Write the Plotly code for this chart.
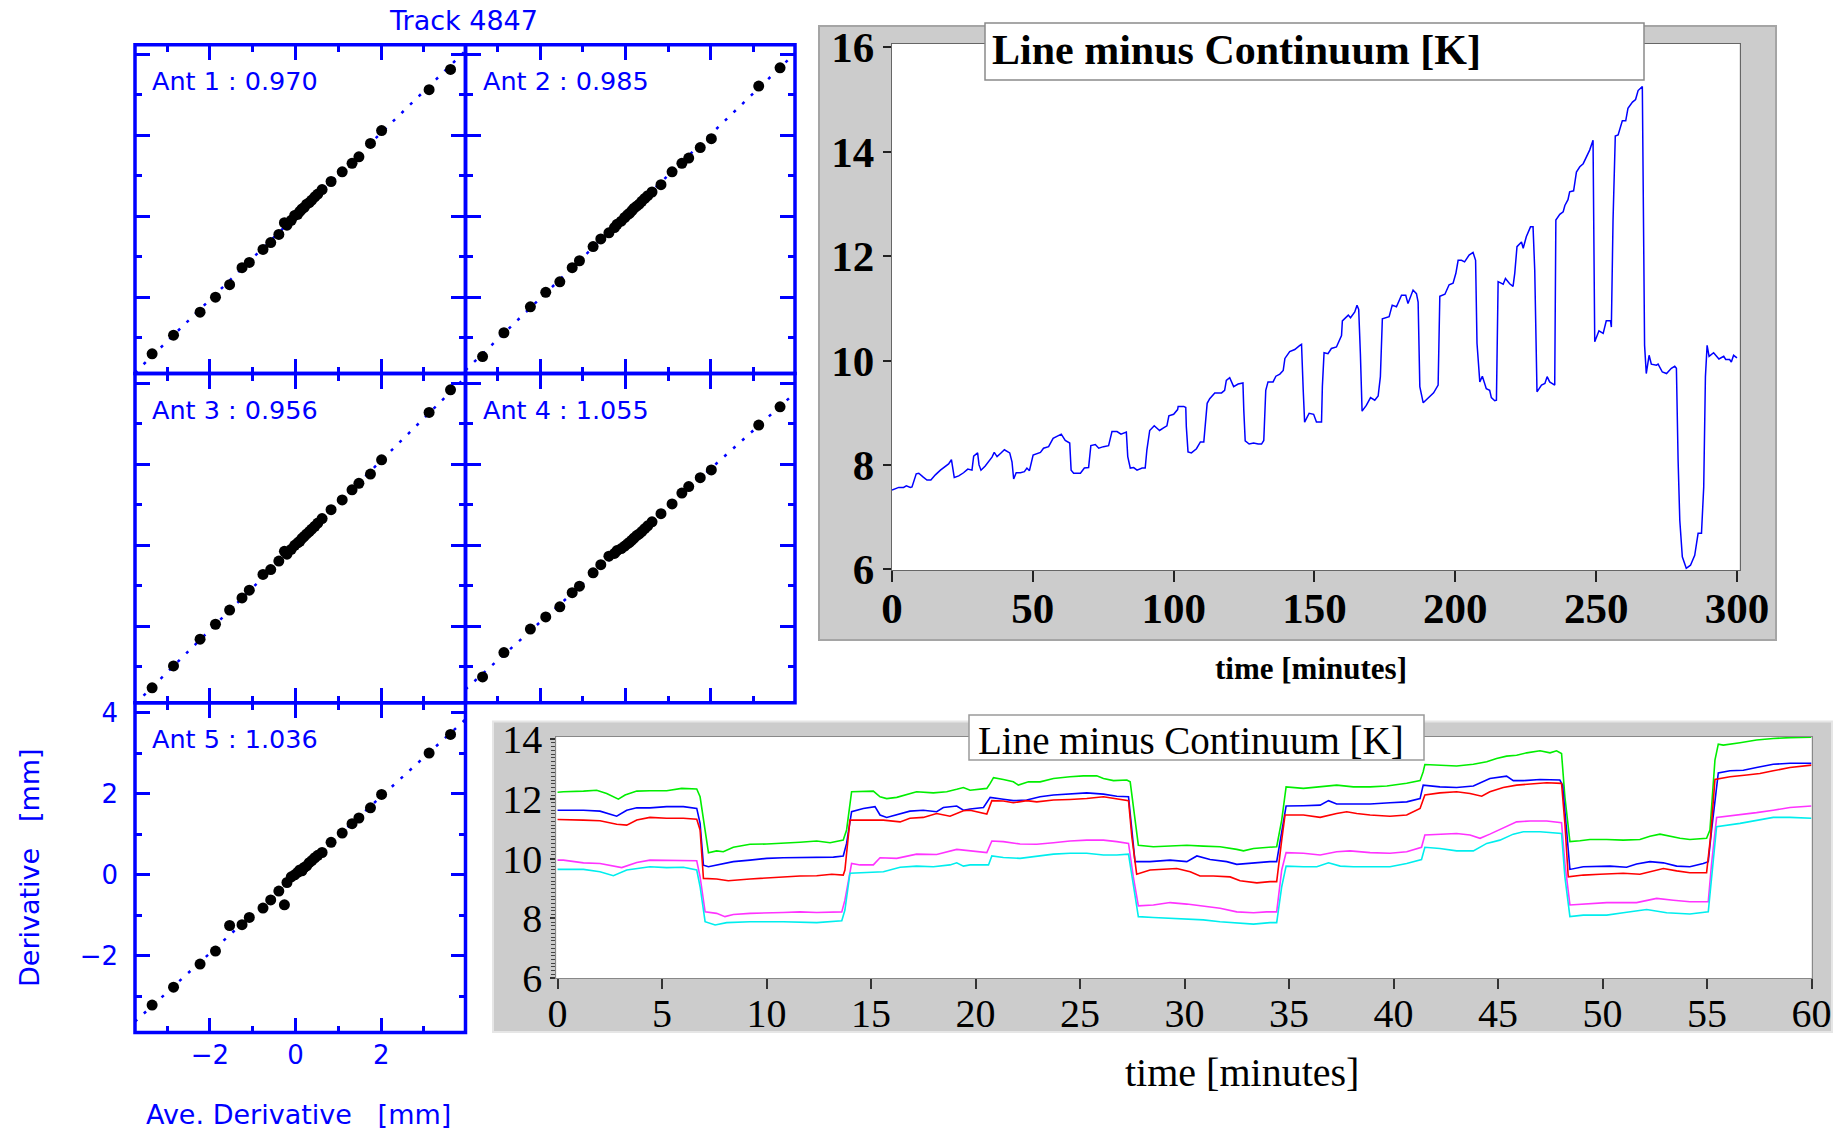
import plotly.graph_objects as go

W, H = 1848, 1132
def fx(px): return px / W
def fy(py): return 1 - py / H

BLUE = '#0000ff'
SANS = 'DejaVu Sans'
SERIF = 'Liberation Serif'

# ---------------- scatter panels data ----------------
track_label = 'Track 4847'
ave_deriv = [-3.35, -2.85, -2.23, -1.87, -1.54, -1.25, -1.08, -0.76, -0.58, -0.39, -0.26, -0.20, -0.10, -0.02,
             0.05, 0.10, 0.15, 0.20, 0.26, 0.32, 0.38, 0.45, 0.52, 0.62, 0.83, 1.09, 1.32, 1.48, 1.75, 2.01, 3.12, 3.62]
ant1 = [-3.40, -2.94, -2.37, -2.00, -1.69, -1.27, -1.14, -0.82, -0.65, -0.45, -0.16, -0.22, -0.10, 0.02, 0.05, 0.12,
        0.18, 0.22, 0.30, 0.34, 0.40, 0.48, 0.55, 0.66, 0.86, 1.10, 1.31, 1.47, 1.80, 2.12, 3.13, 3.63]
ant2 = [-3.47, -2.88, -2.24, -1.88, -1.62, -1.27, -1.10, -0.75, -0.56, -0.41, -0.28, -0.20, -0.12, -0.03, 0.04, 0.08,
        0.14, 0.20, 0.25, 0.30, 0.37, 0.44, 0.51, 0.60, 0.78, 1.10, 1.31, 1.44, 1.70, 1.92, 3.22, 3.67]
ant3 = [-3.52, -2.98, -2.32, -1.95, -1.60, -1.30, -1.11, -0.72, -0.60, -0.39, -0.15, -0.22, -0.10, 0.00, 0.06, 0.10,
        0.17, 0.22, 0.28, 0.34, 0.40, 0.47, 0.55, 0.66, 0.88, 1.12, 1.37, 1.53, 1.76, 2.11, 3.28, 3.84]
ant4 = [-3.25, -2.65, -2.07, -1.77, -1.52, -1.17, -1.01, -0.68, -0.48, -0.27, -0.20, -0.13, -0.08, -0.02, 0.04, 0.08,
        0.13, 0.18, 0.24, 0.28, 0.34, 0.41, 0.48, 0.58, 0.78, 1.02, 1.29, 1.45, 1.67, 1.86, 2.97, 3.42]
ant5 = [-3.21, -2.77, -2.20, -1.88, -1.25, -1.23, -1.05, -0.82, -0.62, -0.40, -0.74, -0.19, -0.05, 0.00, 0.06, 0.12,
        0.10, 0.18, 0.22, 0.30, 0.35, 0.42, 0.48, 0.55, 0.80, 1.03, 1.26, 1.40, 1.65, 1.98, 3.00, 3.46]
ant_values = [ant1, ant2, ant3, ant4, ant5]
ant_names = ['Ant 1', 'Ant 2', 'Ant 3', 'Ant 4', 'Ant 5']
ant_slopes = [0.970, 0.985, 0.956, 1.055, 1.036]
scatter_ticks = [-2, 0, 2, 4]

# ---------------- 300 minute time series ----------------
top_series = [
    (0.0, 7.52), (0.8, 7.54), (2.4, 7.57), (4.1, 7.57), (5.1, 7.60), (6.5, 7.57), (7.1, 7.58), (8.6, 7.83), (9.5, 7.84),
    (11.0, 7.77), (12.4, 7.71), (13.8, 7.71), (15.4, 7.81), (17.2, 7.90), (18.9, 7.98), (20.1, 8.02), (21.1, 8.10),
    (22.1, 7.76), (23.7, 7.79), (25.4, 7.85), (26.9, 7.92), (28.4, 7.90), (29.0, 8.17), (30.4, 8.23), (30.9, 8.00),
    (31.6, 7.90), (33.1, 7.98), (34.3, 8.06), (35.5, 8.15), (36.3, 8.24), (37.3, 8.16), (38.7, 8.23), (39.9, 8.29),
    (41.8, 8.23), (42.6, 8.06), (43.2, 7.73), (44.1, 7.85), (45.6, 7.85), (47.0, 7.87), (47.9, 7.94), (48.8, 7.89),
    (50.1, 8.19), (51.5, 8.21), (52.7, 8.24), (53.8, 8.32), (55.6, 8.35), (57.2, 8.51), (58.6, 8.55), (60.1, 8.59),
    (61.5, 8.47), (63.1, 8.42), (63.6, 7.90), (64.5, 7.84), (66.9, 7.84), (68.3, 7.94), (69.8, 7.95), (70.6, 8.37),
    (72.2, 8.39), (73.4, 8.32), (75.1, 8.35), (76.9, 8.37), (78.1, 8.64), (79.9, 8.64), (81.3, 8.59), (83.2, 8.63),
    (83.7, 8.16), (84.6, 7.94), (85.8, 7.95), (87.0, 7.90), (88.8, 7.94), (89.9, 7.94), (90.5, 8.29), (91.5, 8.66),
    (93.1, 8.75), (95.0, 8.66), (96.4, 8.71), (97.6, 8.75), (98.3, 8.94), (100.0, 8.97), (101.4, 9.06), (101.6, 9.12),
    (103.6, 9.12), (104.3, 9.10), (104.5, 8.73), (105.1, 8.25), (106.3, 8.23), (108.1, 8.31), (109.5, 8.44),
    (110.7, 8.44), (111.9, 9.18), (112.8, 9.27), (114.6, 9.38), (117.0, 9.38), (118.1, 9.43), (118.7, 9.62),
    (119.9, 9.67), (121.3, 9.50), (122.9, 9.55), (124.6, 9.57), (124.9, 9.05), (125.4, 8.46), (126.8, 8.40),
    (128.4, 8.42), (130.0, 8.40), (131.2, 8.40), (132.0, 8.47), (132.7, 9.43), (133.5, 9.59), (135.3, 9.59),
    (136.3, 9.70), (137.7, 9.74), (138.9, 9.81), (139.5, 10.04), (141.2, 10.17), (143.0, 10.21), (144.8, 10.29),
    (145.4, 10.31), (146.0, 9.43), (146.5, 8.82), (148.1, 8.99), (149.7, 8.97), (150.7, 8.82), (152.5, 8.82),
    (152.8, 9.50), (153.4, 10.15), (154.8, 10.13), (156.0, 10.23), (157.8, 10.26), (159.6, 10.48), (159.9, 10.76),
    (162.0, 10.87), (162.8, 10.82), (164.3, 10.93), (165.1, 11.06), (165.7, 10.98), (166.3, 10.13), (166.9, 9.03),
    (168.4, 9.14), (169.9, 9.29), (171.4, 9.24), (172.6, 9.32), (173.4, 9.69), (174.1, 10.80), (176.5, 10.84),
    (177.6, 11.06), (179.1, 11.03), (180.9, 11.25), (182.4, 11.25), (183.2, 11.09), (185.0, 11.35), (186.2, 11.28),
    (186.8, 11.12), (187.4, 9.50), (188.6, 9.19), (189.7, 9.25), (191.5, 9.34), (192.3, 9.38), (193.9, 9.53),
    (194.5, 11.23), (196.3, 11.27), (197.8, 11.45), (199.2, 11.48), (200.2, 11.67), (201.0, 11.92), (202.2, 11.92),
    (203.3, 11.89), (204.9, 12.02), (206.3, 12.07), (207.2, 11.92), (207.7, 10.33), (208.7, 9.59), (209.6, 9.70),
    (211.0, 9.46), (212.2, 9.43), (212.8, 9.29), (214.0, 9.23), (214.6, 9.24), (215.2, 11.51), (217.0, 11.46),
    (217.8, 11.57), (219.3, 11.47), (220.5, 11.42), (221.1, 11.67), (221.9, 12.18), (223.5, 12.27), (224.1, 12.15),
    (225.2, 12.37), (226.7, 12.56), (227.6, 12.56), (228.2, 11.73), (229.0, 9.40), (230.6, 9.53), (231.8, 9.56),
    (232.6, 9.69), (233.5, 9.59), (235.3, 9.53), (235.7, 12.69), (237.1, 12.80), (238.3, 12.85), (238.9, 12.97),
    (240.0, 13.08), (240.6, 13.23), (242.0, 13.25), (243.0, 13.61), (244.2, 13.71), (245.4, 13.77), (246.5, 13.90),
    (247.7, 14.03), (248.9, 14.22), (249.1, 12.56), (249.5, 10.36), (251.0, 10.57), (252.5, 10.52), (253.6, 10.76),
    (255.1, 10.76), (255.4, 10.64), (256.0, 12.69), (256.8, 14.30), (257.8, 14.32), (259.3, 14.59), (260.5, 14.59),
    (261.3, 14.83), (262.9, 14.95), (264.0, 15.00), (264.9, 15.17), (266.4, 15.25), (266.9, 12.88), (267.2, 10.29),
    (267.8, 9.75), (268.8, 10.10), (269.6, 9.93), (271.4, 9.91), (272.0, 9.93), (273.5, 9.78), (275.0, 9.75),
    (276.7, 9.85), (277.9, 9.89), (278.5, 9.85), (279.1, 8.09), (279.7, 6.94), (280.6, 6.24), (282.0, 6.02),
    (283.5, 6.08), (285.0, 6.27), (286.2, 6.69), (287.4, 6.69), (288.2, 7.58), (288.8, 9.69), (289.4, 10.29),
    (290.1, 10.08), (291.7, 10.15), (293.6, 10.03), (295.3, 10.08), (296.0, 10.02), (297.4, 10.02), (298.0, 9.97),
    (298.8, 10.10), (300.0, 10.05)]
top_xticks = [0, 50, 100, 150, 200, 250, 300]
top_yticks = [6, 8, 10, 12, 14, 16]

# ---------------- 60 minute, five series ----------------
green_series = [
    (0.0, 12.22), (0.28, 12.24), (1.24, 12.26), (1.87, 12.29), (2.35, 12.18), (2.91, 11.99), (3.23, 12.13), (3.79, 12.26),
    (4.42, 12.27), (5.22, 12.27), (5.94, 12.35), (6.66, 12.33), (6.82, 12.07), (7.06, 10.96), (7.22, 10.20), (7.61, 10.26),
    (7.93, 10.23), (8.41, 10.38), (9.21, 10.48), (10.01, 10.49), (10.80, 10.51), (11.60, 10.55), (12.40, 10.59),
    (13.04, 10.53), (13.67, 10.62), (13.83, 10.96), (14.07, 12.24), (14.63, 12.24), (15.11, 12.26), (15.43, 12.07),
    (15.75, 12.01), (16.23, 12.05), (16.71, 12.15), (17.18, 12.24), (17.98, 12.20), (18.62, 12.24), (19.10, 12.32),
    (19.42, 12.38), (19.74, 12.29), (20.54, 12.35), (20.70, 12.52), (20.86, 12.71), (21.33, 12.65), (21.81, 12.57),
    (22.05, 12.46), (22.53, 12.57), (23.09, 12.57), (23.73, 12.68), (24.52, 12.74), (25.16, 12.77), (25.80, 12.77),
    (26.12, 12.68), (26.60, 12.61), (27.24, 12.63), (27.40, 12.57), (27.63, 11.29), (27.79, 10.45), (28.51, 10.40),
    (29.31, 10.42), (30.11, 10.45), (30.90, 10.42), (31.70, 10.40), (32.50, 10.31), (32.82, 10.26), (33.30, 10.34),
    (33.93, 10.38), (34.41, 10.40), (34.65, 11.29), (34.86, 12.40), (35.69, 12.35), (36.49, 12.40), (37.28, 12.46),
    (38.08, 12.40), (38.88, 12.40), (39.68, 12.43), (40.63, 12.52), (41.27, 12.61), (41.42, 12.91), (41.50, 13.15),
    (42.22, 13.13), (43.02, 13.10), (43.82, 13.16), (44.46, 13.24), (44.93, 13.35), (45.41, 13.43), (45.89, 13.46),
    (46.37, 13.54), (47.01, 13.61), (47.49, 13.54), (47.80, 13.61), (48.04, 13.52), (48.20, 12.07), (48.44, 10.57),
    (48.92, 10.60), (49.40, 10.64), (50.20, 10.64), (50.99, 10.62), (51.79, 10.64), (52.27, 10.75), (52.75, 10.82),
    (53.23, 10.75), (53.71, 10.68), (54.18, 10.64), (54.98, 10.68), (55.14, 10.96), (55.38, 13.30), (55.54, 13.83),
    (55.78, 13.80), (56.58, 13.88), (57.37, 13.97), (58.17, 14.02), (58.97, 14.05), (60.0, 14.06)]
blue_series = [
    (0.0, 11.62), (0.36, 11.62), (1.24, 11.62), (2.03, 11.59), (2.59, 11.46), (2.83, 11.42), (3.31, 11.62), (3.79, 11.70),
    (4.42, 11.70), (5.22, 11.74), (6.02, 11.74), (6.66, 11.68), (6.82, 11.18), (6.98, 9.78), (7.22, 9.73), (7.61, 9.78),
    (8.41, 9.90), (9.21, 9.95), (10.01, 10.01), (10.80, 10.03), (11.60, 10.04), (12.40, 10.04), (13.20, 10.05),
    (13.67, 10.09), (13.83, 10.51), (14.07, 11.57), (14.63, 11.68), (15.19, 11.74), (15.43, 11.46), (15.75, 11.38),
    (16.23, 11.46), (16.86, 11.59), (17.50, 11.62), (18.14, 11.57), (18.46, 11.71), (19.10, 11.76), (19.42, 11.62),
    (19.74, 11.66), (20.38, 11.71), (20.70, 12.05), (21.33, 11.99), (21.81, 11.94), (22.45, 11.96), (23.09, 12.07),
    (23.73, 12.13), (24.52, 12.16), (25.32, 12.20), (26.12, 12.16), (26.76, 12.09), (27.32, 12.07), (27.48, 10.96),
    (27.63, 9.90), (28.35, 9.90), (29.31, 9.95), (30.11, 9.90), (30.59, 10.09), (31.22, 9.97), (32.02, 9.90),
    (32.50, 9.81), (33.30, 9.86), (34.09, 9.90), (34.41, 9.90), (34.65, 10.96), (34.86, 11.76), (35.69, 11.77),
    (36.49, 11.79), (36.89, 11.94), (37.28, 11.83), (38.08, 11.83), (38.88, 11.83), (39.83, 11.87), (40.63, 11.90),
    (41.27, 12.01), (41.42, 12.46), (42.22, 12.40), (43.02, 12.38), (43.82, 12.43), (44.30, 12.57), (44.61, 12.68),
    (45.41, 12.76), (45.73, 12.61), (46.21, 12.61), (47.01, 12.65), (47.96, 12.63), (48.09, 12.46), (48.28, 10.96),
    (48.44, 9.64), (49.08, 9.73), (49.72, 9.75), (50.36, 9.75), (51.15, 9.71), (51.63, 9.82), (52.27, 9.90),
    (52.91, 9.86), (53.55, 9.75), (54.18, 9.73), (54.82, 9.84), (55.06, 9.90), (55.22, 10.96), (55.54, 12.87),
    (56.10, 12.94), (56.74, 12.96), (57.37, 13.05), (58.17, 13.16), (58.97, 13.19), (60.0, 13.19)]
red_series = [
    (0.0, 11.31), (0.36, 11.31), (1.24, 11.29), (2.03, 11.27), (2.83, 11.15), (3.31, 11.12), (3.79, 11.29), (4.42, 11.38),
    (5.22, 11.35), (6.02, 11.35), (6.66, 11.32), (6.82, 10.96), (6.98, 9.34), (7.61, 9.32), (8.17, 9.26), (9.21, 9.32),
    (10.01, 9.36), (10.80, 9.39), (11.60, 9.42), (12.40, 9.43), (13.12, 9.48), (13.67, 9.45), (13.75, 9.62),
    (13.99, 11.29), (14.63, 11.29), (15.59, 11.29), (16.39, 11.23), (16.86, 11.35), (17.50, 11.38), (18.14, 11.51),
    (18.78, 11.42), (19.42, 11.60), (19.74, 11.62), (20.54, 11.49), (20.78, 11.94), (21.33, 11.93), (21.81, 11.87),
    (22.45, 11.94), (22.93, 11.90), (23.73, 11.96), (24.52, 11.98), (25.32, 12.01), (26.12, 12.07), (26.76, 12.01),
    (27.32, 11.94), (27.48, 10.73), (27.71, 9.48), (28.35, 9.62), (28.99, 9.64), (29.63, 9.67), (30.27, 9.56),
    (30.74, 9.42), (31.38, 9.42), (32.18, 9.39), (32.66, 9.26), (33.46, 9.19), (34.09, 9.23), (34.41, 9.23),
    (34.65, 10.62), (34.81, 11.46), (35.69, 11.46), (36.49, 11.38), (37.28, 11.51), (37.76, 11.57), (38.24, 11.51),
    (38.88, 11.46), (39.83, 11.42), (40.63, 11.46), (41.27, 11.68), (41.50, 12.13), (42.22, 12.20), (43.02, 12.24),
    (43.66, 12.18), (44.22, 12.09), (44.61, 12.24), (45.25, 12.38), (45.89, 12.46), (46.53, 12.49), (47.33, 12.54),
    (48.04, 12.52), (48.20, 11.18), (48.36, 9.39), (49.08, 9.45), (49.88, 9.48), (50.99, 9.51), (51.79, 9.48),
    (52.43, 9.59), (52.91, 9.67), (53.55, 9.59), (54.18, 9.53), (54.98, 9.53), (55.17, 10.73), (55.38, 12.65),
    (56.10, 12.74), (56.90, 12.80), (57.53, 12.85), (58.17, 12.94), (58.97, 13.05), (60.0, 13.13)]
magenta_series = [
    (0.0, 9.95), (0.28, 9.95), (1.24, 9.86), (2.03, 9.84), (3.07, 9.70), (3.79, 9.87), (4.42, 9.95), (5.22, 9.95),
    (6.66, 9.93), (6.82, 9.39), (7.06, 8.22), (7.61, 8.17), (8.01, 8.06), (8.41, 8.13), (9.21, 8.17), (10.80, 8.20),
    (11.60, 8.22), (12.40, 8.20), (13.60, 8.22), (13.75, 8.61), (14.07, 9.84), (14.47, 9.79), (15.11, 9.79),
    (15.43, 10.03), (16.23, 10.01), (17.18, 10.15), (18.14, 10.14), (19.10, 10.31), (19.74, 10.27), (20.54, 10.20),
    (20.78, 10.59), (21.33, 10.57), (22.13, 10.49), (22.93, 10.48), (23.73, 10.53), (24.52, 10.59), (25.32, 10.62),
    (26.12, 10.62), (26.76, 10.57), (27.32, 10.51), (27.55, 9.39), (27.79, 8.42), (28.51, 8.45), (29.31, 8.53),
    (30.11, 8.48), (30.90, 8.41), (31.70, 8.34), (32.50, 8.22), (33.30, 8.19), (33.93, 8.22), (34.41, 8.22),
    (34.65, 9.62), (34.86, 10.20), (35.69, 10.18), (36.49, 10.12), (37.28, 10.23), (37.92, 10.26), (38.88, 10.20),
    (39.83, 10.18), (40.63, 10.23), (41.34, 10.38), (41.50, 10.79), (42.22, 10.82), (43.02, 10.84), (43.66, 10.79),
    (44.14, 10.68), (44.61, 10.82), (45.09, 10.98), (45.57, 11.12), (45.89, 11.23), (46.53, 11.26), (47.33, 11.26),
    (48.04, 11.20), (48.20, 9.84), (48.44, 8.45), (49.08, 8.48), (50.20, 8.53), (51.63, 8.53), (52.59, 8.67),
    (53.39, 8.61), (54.18, 8.56), (55.06, 8.56), (55.22, 9.84), (55.46, 11.38), (56.58, 11.46), (57.37, 11.54),
    (58.17, 11.62), (58.97, 11.71), (60.0, 11.76)]
cyan_series = [
    (0.0, 9.64), (0.36, 9.64), (1.24, 9.64), (2.03, 9.56), (2.67, 9.43), (3.31, 9.62), (3.79, 9.67), (4.42, 9.73),
    (5.22, 9.70), (6.02, 9.71), (6.66, 9.62), (6.82, 9.06), (7.06, 7.89), (7.54, 7.78), (8.09, 7.86), (9.21, 7.89),
    (10.80, 7.89), (12.40, 7.86), (13.60, 7.92), (13.75, 8.28), (13.99, 9.51), (14.79, 9.54), (15.59, 9.56),
    (16.39, 9.71), (17.18, 9.75), (17.98, 9.73), (18.78, 9.79), (19.10, 9.86), (19.42, 9.75), (19.74, 9.79),
    (20.62, 9.79), (20.78, 10.09), (21.33, 10.04), (22.13, 10.01), (22.93, 10.09), (23.73, 10.15), (24.52, 10.18),
    (25.32, 10.18), (26.12, 10.12), (26.76, 10.12), (27.32, 10.15), (27.55, 9.06), (27.79, 8.06), (28.51, 8.03),
    (29.31, 8.00), (30.11, 7.97), (30.90, 7.95), (31.70, 7.89), (32.50, 7.86), (33.30, 7.81), (34.09, 7.86),
    (34.41, 7.86), (34.65, 9.06), (34.86, 9.75), (35.69, 9.73), (36.33, 9.73), (36.89, 9.86), (37.45, 9.75),
    (38.08, 9.73), (38.88, 9.73), (39.83, 9.73), (40.63, 9.84), (41.34, 9.97), (41.50, 10.38), (42.22, 10.34),
    (43.02, 10.26), (43.82, 10.26), (44.46, 10.51), (45.09, 10.62), (45.73, 10.82), (46.21, 10.90), (47.01, 10.90),
    (48.04, 10.84), (48.20, 9.39), (48.44, 8.06), (49.08, 8.11), (50.20, 8.11), (50.99, 8.19), (52.11, 8.30),
    (53.07, 8.19), (54.18, 8.15), (55.06, 8.22), (55.27, 9.62), (55.46, 11.07), (56.58, 11.18), (57.37, 11.29),
    (58.17, 11.38), (58.97, 11.38), (60.0, 11.35)]
bottom_xticks = [0, 5, 10, 15, 20, 25, 30, 35, 40, 45, 50, 55, 60]
bottom_yticks = [6, 8, 10, 12, 14]

chart_title = 'Line minus Continuum [K]'
time_label = 'time [minutes]'

fig = go.Figure()

# ---------------- scatter panels ----------------
col_edges = [135.0, 465.5, 795.0]
row_edges = [44.8, 373.6, 702.8, 1032.6]
panel_pos = [(0, 0), (1, 0), (0, 1), (1, 1), (0, 2)]
XR = [-3.75, 3.97]
YR = [-3.89, 4.24]

layout_axes = {}
annotations = []
shapes = []
for i in range(5):
    c, r = panel_pos[i]
    n = '' if i == 0 else str(i + 1)
    s = ant_slopes[i]
    fig.add_trace(go.Scatter(x=XR, y=[XR[0] / s, XR[1] / s], mode='lines',
                             line=dict(color=BLUE, width=2.5, dash='3px,9px'),
                             xaxis='x' + n, yaxis='y' + n, showlegend=False, hoverinfo='skip'))
    fig.add_trace(go.Scatter(x=ave_deriv, y=ant_values[i], mode='markers',
                             marker=dict(color='black', size=11, symbol='circle'),
                             xaxis='x' + n, yaxis='y' + n, showlegend=False))
    common = dict(showline=False, mirror='ticks', ticks='inside',
                  ticklen=15, tickwidth=2.5, tickcolor=BLUE, showgrid=False, zeroline=False,
                  tickvals=scatter_ticks, showticklabels=(i == 4),
                  tickfont=dict(family=SANS, size=26, color=BLUE),
                  minor=dict(ticks='inside', ticklen=7, tickwidth=2.5, tickcolor=BLUE, dtick=1, tick0=0, showgrid=False))
    layout_axes['xaxis' + n] = dict(common, domain=[fx(col_edges[c]), fx(col_edges[c + 1])], range=XR,
                                    anchor='y' + n, ticklabelstandoff=4)
    layout_axes['yaxis' + n] = dict(common, domain=[fy(row_edges[r + 1]), fy(row_edges[r])], range=YR,
                                    anchor='x' + n, ticklabelstandoff=16)
    shapes.append(dict(type='rect', xref='paper', yref='paper', x0=fx(col_edges[c]), x1=fx(col_edges[c + 1]),
                       y0=fy(row_edges[r + 1]), y1=fy(row_edges[r]), line=dict(color=BLUE, width=3.5),
                       fillcolor='rgba(0,0,0,0)', layer='above'))
    annotations.append(dict(x=fx(col_edges[c] + 15), y=fy(row_edges[r] + 36), xref='paper', yref='paper',
                             xanchor='left', yanchor='middle', showarrow=False,
                             text=f'{ant_names[i]} : {s:.3f}',
                             font=dict(family=SANS, size=25.5, color=BLUE)))

annotations.append(dict(x=fx(463), y=fy(20), xref='paper', yref='paper', showarrow=False,
                        xanchor='center', yanchor='middle',
                        text=track_label, font=dict(family=SANS, size=27, color=BLUE)))
annotations.append(dict(x=fx(298), y=fy(1114), xref='paper', yref='paper', showarrow=False,
                        xanchor='center', yanchor='middle',
                        text='Ave. Derivative\u00a0\u00a0\u00a0[mm]', font=dict(family=SANS, size=27, color=BLUE)))
annotations.append(dict(x=fx(29), y=fy(868), xref='paper', yref='paper', showarrow=False, textangle=-90,
                        xanchor='center', yanchor='middle',
                        text='Derivative\u00a0\u00a0\u00a0[mm]', font=dict(family=SANS, size=27, color=BLUE)))

# ---------------- top-right chart ----------------
fig.add_trace(go.Scatter(x=[p[0] for p in top_series], y=[p[1] for p in top_series], mode='lines',
                         line=dict(color='#0000ff', width=1.5), xaxis='x6', yaxis='y6', showlegend=False))
fig.add_trace(go.Scatter(x=[], y=[], mode='lines', xaxis='x8', yaxis='y6', showlegend=False, hoverinfo='skip'))
TOP_X = [892.0, 1739.5]
TOP_Y = [43.6, 570.4]
TOP_XR = [0, 300.9]
layout_axes['xaxis6'] = dict(domain=[fx(TOP_X[0]), fx(TOP_X[1])], range=TOP_XR, anchor='y6',
                             tickvals=top_xticks, ticks='', ticklabelstandoff=0,
                             showline=True, linecolor='#666', linewidth=1.2, mirror=True,
                             showgrid=False, zeroline=False,
                             tickfont=dict(family=SERIF, size=43, color='black', weight='bold'))
layout_axes['xaxis8'] = dict(overlaying='x6', anchor='y6', range=TOP_XR, tickvals=top_xticks,
                             ticks='outside', ticklen=11, tickwidth=2, tickcolor='#222', showticklabels=False,
                             showline=False, showgrid=False, zeroline=False)
layout_axes['yaxis6'] = dict(domain=[fy(TOP_Y[1]), fy(TOP_Y[0])], range=[5.98, 16.07], anchor='x6',
                             tickvals=top_yticks, ticks='outside', ticklen=8, tickwidth=2, tickcolor='#222',
                             showline=True, linecolor='#666', linewidth=1.2, mirror=True,
                             showgrid=False, zeroline=False,
                             tickfont=dict(family=SERIF, size=43, color='black', weight='bold'))

# ---------------- bottom chart ----------------
for series, col in [(green_series, '#00ee00'), (blue_series, '#0000ff'), (red_series, '#ff0000'),
                    (magenta_series, '#ff33ff'), (cyan_series, '#00eeee')]:
    fig.add_trace(go.Scatter(x=[p[0] for p in series], y=[p[1] for p in series], mode='lines',
                             line=dict(color=col, width=1.6), xaxis='x7', yaxis='y7', showlegend=False))
fig.add_trace(go.Scatter(x=[], y=[], mode='lines', xaxis='x9', yaxis='y7', showlegend=False, hoverinfo='skip'))
BOT_X = [556.3, 1811.5]
BOT_Y = [737.0, 978.2]
BOT_XR = [-0.06, 60]
layout_axes['xaxis7'] = dict(domain=[fx(BOT_X[0]), fx(BOT_X[1])], range=BOT_XR, anchor='y7',
                             tickvals=bottom_xticks, ticks='', ticklabelstandoff=0,
                             showline=True, linecolor='#888', linewidth=1, mirror=True,
                             showgrid=False, zeroline=False,
                             tickfont=dict(family=SERIF, size=40, color='black'))
layout_axes['xaxis9'] = dict(overlaying='x7', anchor='y7', range=BOT_XR, tickvals=bottom_xticks,
                             ticks='outside', ticklen=10, tickwidth=1.5, tickcolor='#333', showticklabels=False,
                             showline=False, showgrid=False, zeroline=False)
layout_axes['yaxis7'] = dict(domain=[fy(BOT_Y[1]), fy(BOT_Y[0])], range=[6, 14.07], anchor='x7',
                             tickvals=bottom_yticks, ticks='outside', ticklen=5, tickwidth=1.5, tickcolor='#333',
                             showline=True, linecolor='#888', linewidth=1, mirror=True,
                             showgrid=False, zeroline=False,
                             minor=dict(ticks='outside', ticklen=4, tickwidth=1, tickcolor='#444', dtick=0.125,
                                        tick0=0, showgrid=False),
                             tickfont=dict(family=SERIF, size=40, color='black'))

shapes = [
    # top-right frame
    dict(type='rect', xref='paper', yref='paper', x0=fx(819), x1=fx(1776), y0=fy(640), y1=fy(26),
         fillcolor='#cccccc', line=dict(color='#a5a5a5', width=2), layer='below'),
    dict(type='rect', xref='paper', yref='paper', x0=fx(TOP_X[0]), x1=fx(TOP_X[1]), y0=fy(TOP_Y[1]),
         y1=fy(TOP_Y[0]), fillcolor='white', line=dict(width=0), layer='below'),
    # bottom frame
    dict(type='rect', xref='paper', yref='paper', x0=fx(493), x1=fx(1832), y0=fy(1032), y1=fy(721.5),
         fillcolor='#cccccc', line=dict(color='#e6e6e6', width=2), layer='below'),
    dict(type='rect', xref='paper', yref='paper', x0=fx(BOT_X[0]), x1=fx(BOT_X[1]), y0=fy(BOT_Y[1]),
         y1=fy(BOT_Y[0]), fillcolor='white', line=dict(width=0), layer='below'),
    # title boxes
    dict(type='rect', xref='paper', yref='paper', x0=fx(985), x1=fx(1644), y0=fy(80), y1=fy(23),
         fillcolor='white', line=dict(color='#8a8a8a', width=1.5), layer='above'),
    dict(type='rect', xref='paper', yref='paper', x0=fx(969), x1=fx(1424), y0=fy(760), y1=fy(715),
         fillcolor='white', line=dict(color='#9a9a9a', width=1.5), layer='above'),
] + shapes

annotations += [
    dict(x=fx(990), y=fy(50), xref='paper', yref='paper', xanchor='left', yanchor='middle', showarrow=False,
         text=chart_title, font=dict(family=SERIF, size=42, color='black', weight='bold')),
    dict(x=fx(1311), y=fy(668), xref='paper', yref='paper', showarrow=False, xanchor='center', yanchor='middle',
         text=time_label, font=dict(family=SERIF, size=31, color='black', weight='bold')),
    dict(x=fx(976), y=fy(740), xref='paper', yref='paper', xanchor='left', yanchor='middle', showarrow=False,
         text=chart_title, font=dict(family=SERIF, size=39, color='black')),
    dict(x=fx(1242), y=fy(1072), xref='paper', yref='paper', showarrow=False, xanchor='center', yanchor='middle',
         text=time_label, font=dict(family=SERIF, size=40, color='black')),
]

fig.update_layout(width=W, height=H, margin=dict(l=0, r=0, t=0, b=0, pad=0, autoexpand=False),
                  paper_bgcolor='white', plot_bgcolor='rgba(0,0,0,0)',
                  shapes=shapes, annotations=annotations, showlegend=False, **layout_axes)

fig.write_html('out.html')
